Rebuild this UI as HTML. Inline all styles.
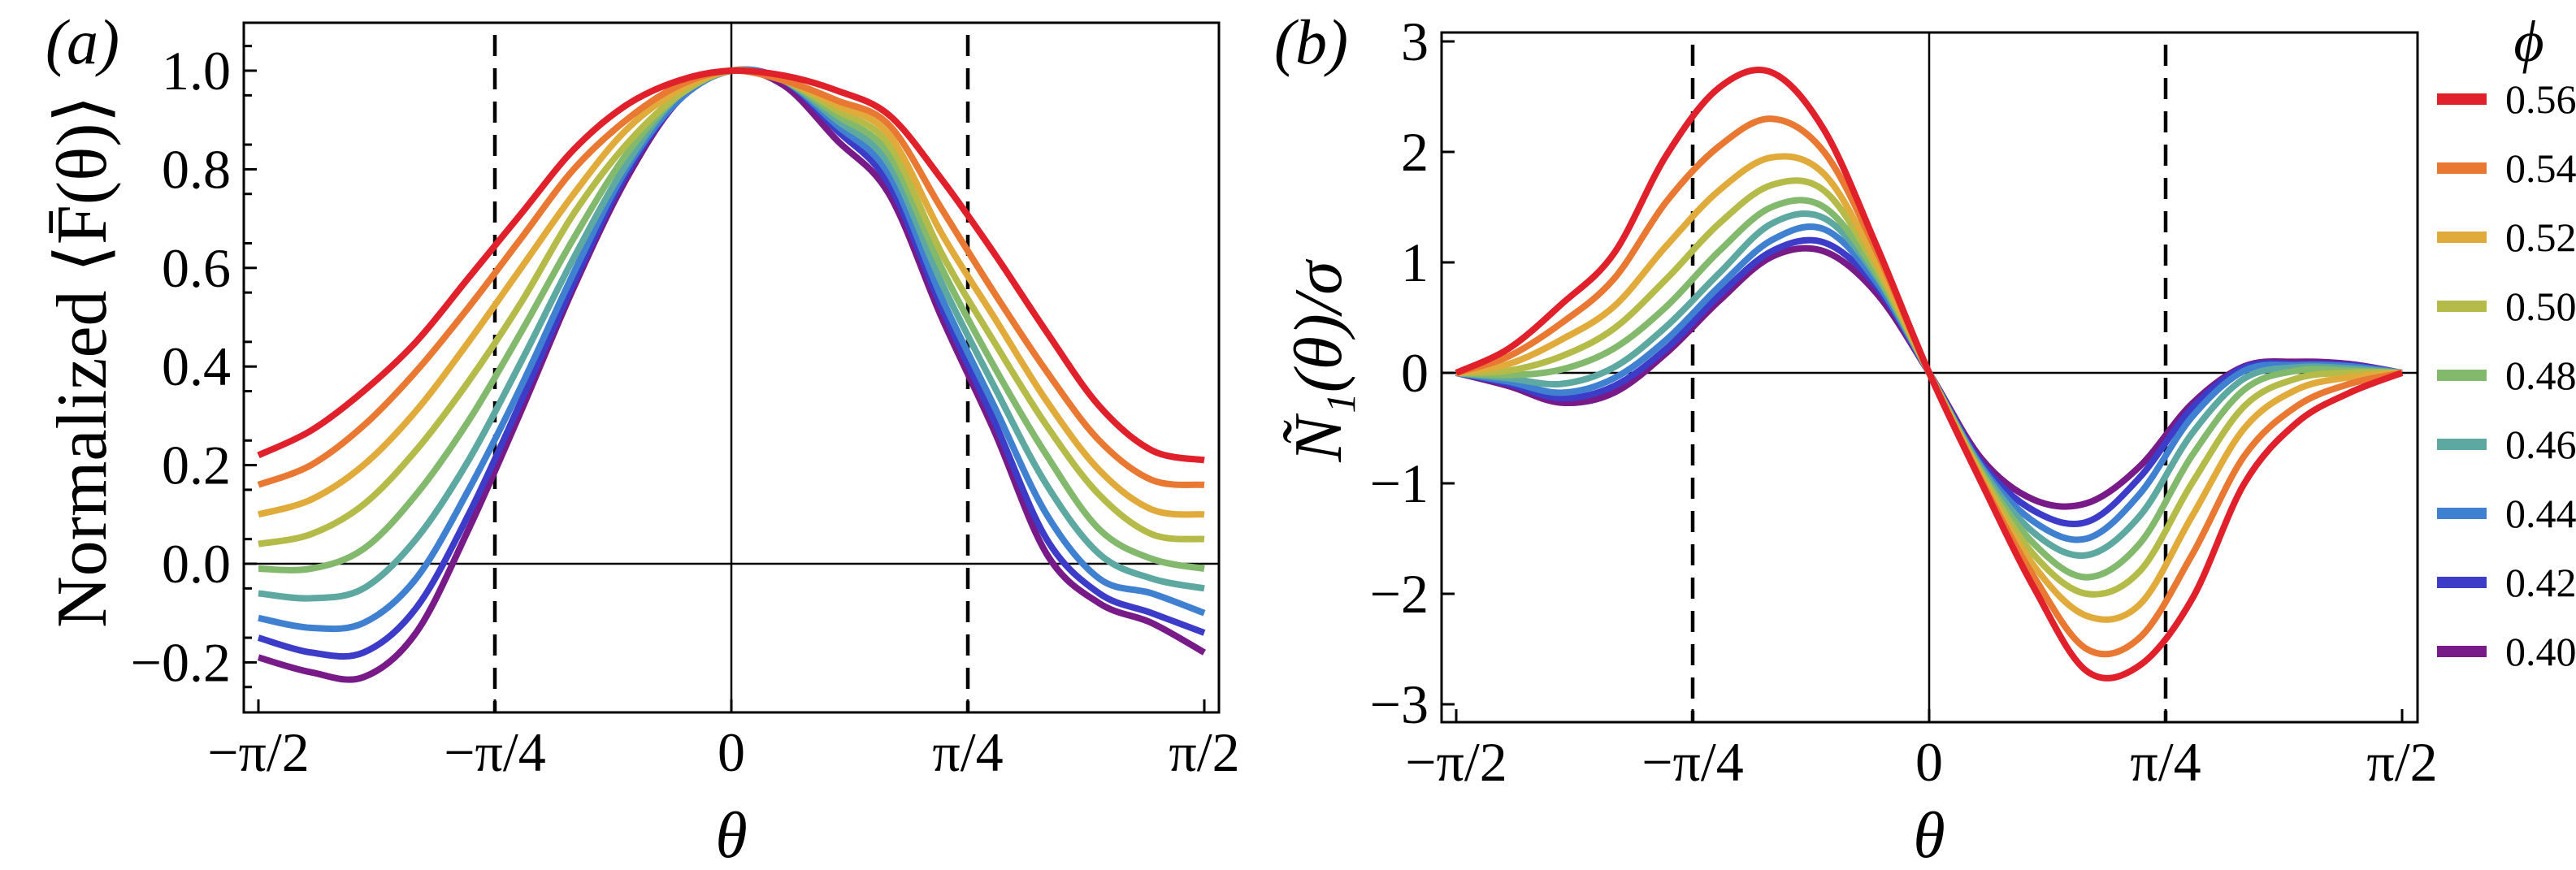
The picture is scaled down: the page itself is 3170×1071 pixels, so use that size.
<!DOCTYPE html>
<html><head><meta charset="utf-8">
<style>
html,body{margin:0;padding:0;background:#fff;}
svg{display:block;}
svg text{font-family:"Liberation Serif","DejaVu Serif",serif;fill:#000;}
</style></head>
<body>
<svg id="fig" width="3170" height="1071" viewBox="0 0 3170 1071" font-family="Liberation Serif, DejaVu Serif, serif">
<g id="pa"></g>
<g id="pb"></g>
<g id="leg"></g>
</svg>
<script>
const thetaDeg = [-90,-80,-70,-60,-50,-40,-30,-20,-10,0,10,20,30,40,50,60,70,80,90];
const phiLabels = ["0.56","0.54","0.52","0.50","0.48","0.46","0.44","0.42","0.40"];
const colors = ["#e0202a","#e87832","#e0ab3a","#b5bb48","#82b96c","#5ea8a2","#4080d0","#3c3cc8","#781a88"];
const aTicks = [-0.2,0,0.2,0.4,0.6,0.8,1.0];
const aTickLabels = ["\u22120.2","0.0","0.2","0.4","0.6","0.8","1.0"];
const bTicks = [-3,-2,-1,0,1,2,3];
const bTickLabels = ["\u22123","\u22122","\u22121","0","1","2","3"];
const xTicks = [-90,-45,0,45,90];
const xTickLabels = ["\u2212\u03c0/2","\u2212\u03c0/4","0","\u03c0/4","\u03c0/2"];

const aS056 = [.22,.27,.35,.45,.58,.71,.84,.93,.98,1.0,.99,.96,.91,.78,.63,.47,.32,.23,.21];
const aS054 = [.16,.20,.28,.39,.52,.66,.80,.90,.97,1.0,.98,.94,.89,.72,.55,.39,.25,.17,.16];
const aS052 = [.10,.13,.20,.31,.45,.60,.75,.88,.96,1.0,.98,.93,.87,.67,.50,.33,.19,.11,.10];
const aS050 = [.04,.06,.12,.23,.37,.53,.71,.85,.95,1.0,.98,.92,.85,.63,.45,.28,.14,.06,.05];
const aS048 = [-.01,-.01,.03,.14,.29,.47,.66,.83,.95,1.0,.98,.91,.83,.60,.40,.22,.07,.01,-.01];
const aS046 = [-.06,-.07,-.05,.05,.21,.41,.62,.81,.95,1.0,.98,.90,.81,.57,.36,.16,.02,-.03,-.05];
const aS044 = [-.11,-.13,-.12,-.03,.15,.36,.59,.80,.94,1.0,.98,.89,.79,.54,.32,.10,-.03,-.06,-.10];
const aS042 = [-.15,-.18,-.18,-.09,.10,.33,.57,.79,.94,1.0,.98,.88,.77,.52,.29,.05,-.06,-.10,-.14];
const aS040 = [-.19,-.22,-.23,-.14,.07,.31,.56,.78,.94,1.0,.97,.86,.75,.50,.27,.02,-.08,-.12,-.18];

const bS056 = [0,.22,.62,1.08,1.97,2.58,2.72,2.2,1.15,0,-1.0,-1.95,-2.7,-2.65,-2.05,-1.0,-.45,-.18,0];
const bS054 = [0,.15,.45,.85,1.55,2.05,2.3,2.0,1.1,0,-.98,-1.85,-2.5,-2.4,-1.65,-.75,-.3,-.1,0];
const bS052 = [0,.08,.3,.6,1.15,1.65,1.95,1.8,1.0,0,-.95,-1.75,-2.2,-2.1,-1.3,-.5,-.15,-.04,0];
const bS050 = [0,.02,.15,.4,.85,1.35,1.7,1.65,.95,0,-.92,-1.65,-2.0,-1.8,-1.0,-.3,-.05,0,0];
const bS048 = [0,-.02,.03,.22,.6,1.1,1.5,1.5,.9,0,-.9,-1.55,-1.85,-1.55,-.75,-.15,.02,.02,0];
const bS046 = [0,-.05,-.1,.05,.42,.9,1.35,1.4,.87,0,-.87,-1.45,-1.65,-1.3,-.55,-.05,.05,.04,0];
const bS044 = [0,-.08,-.18,-.05,.3,.78,1.2,1.3,.82,0,-.85,-1.35,-1.5,-1.1,-.4,.02,.07,.06,0];
const bS042 = [0,-.1,-.23,-.12,.22,.7,1.1,1.18,.78,0,-.82,-1.25,-1.35,-.95,-.32,.05,.08,.07,0];
const bS040 = [0,-.12,-.27,-.18,.18,.65,1.05,1.1,.72,0,-.78,-1.15,-1.18,-.85,-.28,.06,.1,.08,0];

const aSeries = [aS056,aS054,aS052,aS050,aS048,aS046,aS044,aS042,aS040];
const bSeries = [bS056,bS054,bS052,bS050,bS048,bS046,bS044,bS042,bS040];

const NS = "http://www.w3.org/2000/svg";
const SERIF = "Liberation Serif, DejaVu Serif, serif";
function mk(parent, tag, attrs, txt){
  const e = document.createElementNS(NS, tag);
  for (const k in attrs) e.setAttribute(k, attrs[k]);
  if (tag === "text") e.setAttribute("font-family", SERIF);
  if (txt !== undefined) e.textContent = txt;
  parent.appendChild(e);
  return e;
}
function smoothPath(pts){
  let d = "M" + pts[0][0] + "," + pts[0][1];
  for (let i=0;i<pts.length-1;i++){
    const p0 = pts[Math.max(0,i-1)], p1 = pts[i], p2 = pts[i+1], p3 = pts[Math.min(pts.length-1,i+2)];
    const c1x = p1[0]+(p2[0]-p0[0])/6, c1y = p1[1]+(p2[1]-p0[1])/6;
    const c2x = p2[0]-(p3[0]-p1[0])/6, c2y = p2[1]-(p3[1]-p1[1])/6;
    d += " C"+c1x+","+c1y+" "+c2x+","+c2y+" "+p2[0]+","+p2[1];
  }
  return d;
}

function panel(g, cfg){
  const xs = d => cfg.x0 + (d - (-90)) / 180 * (cfg.x1 - cfg.x0);
  const ys = v => cfg.yZero - v * cfg.yUnit;
  [-45,45].forEach(d=>{
    const l = mk(g,"line",{x1:xs(d),x2:xs(d),y1:cfg.top+15,y2:cfg.bottom,stroke:"#000","stroke-width":4.5,"stroke-dasharray":"26,15"});
    
    
  });
  const zh = mk(g,"line",{x1:cfg.left,x2:cfg.right,y1:ys(0),y2:ys(0),stroke:"#000","stroke-width":2.5});
  
  
  const zv = mk(g,"line",{x1:xs(0),x2:xs(0),y1:cfg.top,y2:cfg.bottom,stroke:"#000","stroke-width":2.5});
  
  
  for (let s=cfg.series.length-1;s>=0;s--){
    const pts = thetaDeg.map((d,i)=>[xs(d), ys(cfg.series[s][i])]);
    const p = mk(g,"path",{d:smoothPath(pts),fill:"none",stroke:colors[s],"stroke-width":8,"stroke-linejoin":"round"});
    
    
  }
  const f = mk(g,"rect",{x:cfg.left,y:cfg.top,width:cfg.right-cfg.left,height:cfg.bottom-cfg.top,fill:"none",stroke:"#000","stroke-width":3});
  
  
  cfg.yTicks.forEach((v,i)=>{
    const t = mk(g,"line",{x1:cfg.left,x2:cfg.left+16,y1:ys(v),y2:ys(v),stroke:"#000","stroke-width":3});
    
    
    const lb = mk(g,"text",{x:cfg.left-16,y:ys(v)+23,"text-anchor":"end","font-size":68},cfg.yLabels[i]);
    
    
  });
  if (cfg.minor){
    for (let v=-0.25; v<=1.051; v+=0.1){
      const t = mk(g,"line",{x1:cfg.left,x2:cfg.left+10,y1:ys(v),y2:ys(v),stroke:"#000","stroke-width":3});
      
      
    }
  }
  xTicks.forEach((d,i)=>{
    const t = mk(g,"line",{x1:xs(d),x2:xs(d),y1:cfg.bottom,y2:cfg.bottom-16,stroke:"#000","stroke-width":3});
    
    
    const lb = mk(g,"text",{x:xs(d),y:cfg.bottom+72,"text-anchor":"middle","font-size":68},xTickLabels[i]);
    
    
  });
  const xt = mk(g,"text",{x:xs(0),y:1055,"text-anchor":"middle","font-size":80,"font-style":"italic"},"\u03b8");
  
  
}

panel(document.getElementById("pa"),{left:300,right:1500,top:28,bottom:877,x0:318,x1:1482,yZero:694,yUnit:607,series:aSeries,yTicks:aTicks,yLabels:aTickLabels,minor:true});
panel(document.getElementById("pb"),{left:1774,right:2975,top:40,bottom:889,x0:1792,x1:2956,yZero:459,yUnit:136,series:bSeries,yTicks:bTicks,yLabels:bTickLabels,minor:false});

const pa = document.getElementById("pa"), pb = document.getElementById("pb");
const la = mk(pa,"text",{x:56,y:78,"font-size":78,"font-style":"italic"},"(a)");


const lbb = mk(pb,"text",{x:1568,y:78,"font-size":78,"font-style":"italic"},"(b)");


const yta = mk(pa,"text",{x:0,y:0,"text-anchor":"middle","font-size":88,transform:"translate(130,445) rotate(-90)"},"Normalized \u27e8F\u0304(\u03b8)\u27e9");


const ytb = mk(pb,"text",{x:0,y:0,"text-anchor":"middle","font-size":84,"font-style":"italic",transform:"translate(1650,445) rotate(-90)"},"\u00d1\u2081(\u03b8)/\u03c3");



const leg = document.getElementById("leg");
const lt = mk(leg,"text",{x:3112,y:75,"text-anchor":"middle","font-size":72,"font-style":"italic"},"\u03d5");


phiLabels.forEach((lab,i)=>{
  const y = 122 + i*85;
  const sw = mk(leg,"rect",{x:2999,y:y-7,width:61,height:14,fill:colors[i]});
  
  
  const tx = mk(leg,"text",{x:3083,y:y+17,"font-size":50},lab);
  
  
});
</script>
</body></html>
